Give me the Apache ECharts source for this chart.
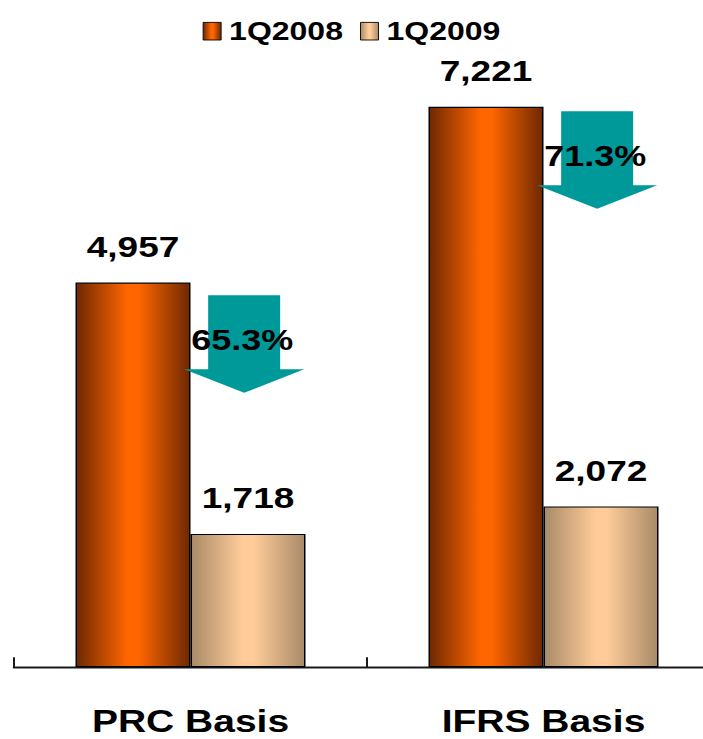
<!DOCTYPE html>
<html>
<head>
<meta charset="utf-8">
<script src="https://cdn.jsdelivr.net/npm/echarts@6/dist/echarts.min.js"></script>
<style>
  html, body { margin: 0; padding: 0; background: #fff; overflow: hidden; }
  #wrap { width: 703px; height: 739px; overflow: hidden; }
  /* the chart is laid out tall and squeezed vertically, giving wide bold lettering */
  #chart { width: 703px; height: 924px; transform: scaleY(0.8); transform-origin: 0 0; }
</style>
</head>
<body>
<div id="wrap"><div id="chart"></div></div>
<script>
const categories = ['PRC Basis', 'IFRS Basis'];
const seriesNames = ['1Q2008', '1Q2009'];
const values2008 = [4957, 7221];
const values2009 = [1718, 2072];
const dropLabels = ['65.3%', '71.3%'];
const arrowTop = [4794, 7165];

const FONT = '"Liberation Sans", Arial, sans-serif';

function barGradient(edge, mid) {
  return new echarts.graphic.LinearGradient(0, 0, 1, 0, [
    { offset: 0, color: edge },
    { offset: 0.45, color: mid },
    { offset: 0.55, color: mid },
    { offset: 1, color: edge }
  ]);
}
const orangeFill = barGradient('#6e2800', '#ff6600');
const beigeFill = barGradient('#a88a68', '#ffcc99');

const valueLabel = {
  show: true,
  position: 'top',
  distance: 26,
  color: '#000',
  fontFamily: FONT,
  fontWeight: 'bold',
  fontSize: 37,
  formatter: p => p.value.toLocaleString('en-US')
};

const chart = echarts.init(document.getElementById('chart'), null, { renderer: 'svg' });

chart.setOption({
  animation: false,
  backgroundColor: '#fff',
  textStyle: { fontFamily: FONT },
  legend: {
    data: seriesNames,
    top: 18,
    left: 'center',
    itemWidth: 18,
    itemHeight: 22,
    itemGap: 17,
    icon: 'rect',
    textStyle: { fontSize: 32, fontWeight: 'bold', color: '#000', fontFamily: FONT, padding: [0, 0, 0, 3] },
    itemStyle: { borderColor: '#000', borderWidth: 1 }
  },
  grid: { left: 14, width: 706, top: 58, bottom: 90, containLabel: false, outerBoundsMode: 'none' },
  xAxis: {
    type: 'category',
    data: categories,
    boundaryGap: true,
    axisLine: { show: true, lineStyle: { color: '#1a1a1a', width: 2.5 } },
    axisTick: { show: true, inside: true, length: 12.5, lineStyle: { color: '#1a1a1a', width: 2 } },
    axisLabel: { margin: 48, fontSize: 39, fontWeight: 'bold', color: '#000', fontFamily: FONT }
  },
  yAxis: { type: 'value', min: 0, max: 8000, show: false, splitLine: { show: false } },
  series: [
    {
      name: seriesNames[0], type: 'bar', data: values2008,
      barWidth: 115, barGap: '0%',
      itemStyle: { color: orangeFill, borderColor: '#000', borderWidth: 1.5 },
      label: valueLabel
    },
    {
      name: seriesNames[1], type: 'bar', data: values2009,
      barWidth: 115,
      itemStyle: { color: beigeFill, borderColor: '#000', borderWidth: 1.5 },
      label: valueLabel
    },
    {
      name: 'drop', type: 'custom', coordinateSystem: 'cartesian2d', z: 10,
      data: arrowTop.map((v, i) => [i, v]),
      renderItem: function (params, api) {
        const p = api.coord([api.value(0), api.value(1)]);
        const band = api.size([1, 0])[0];
        const cx = p[0] + band * 0.152;
        const y0 = p[1];
        const sw = 36, hw = 60, sh = 92.5, hh = 29.5;
        return {
          type: 'group',
          children: [
            {
              type: 'polygon',
              shape: { points: [
                [cx - sw, y0], [cx + sw, y0], [cx + sw, y0 + sh], [cx + hw, y0 + sh],
                [cx, y0 + sh + hh], [cx - hw, y0 + sh], [cx - sw, y0 + sh]
              ] },
              style: { fill: '#009999' }
            },
            {
              type: 'text',
              style: {
                text: dropLabels[params.dataIndex],
                x: cx - 2, y: y0 + 56,
                align: 'center', verticalAlign: 'middle',
                font: 'bold 36px ' + FONT,
                fill: '#000'
              }
            }
          ]
        };
      }
    }
  ]
});
</script>
</body>
</html>
